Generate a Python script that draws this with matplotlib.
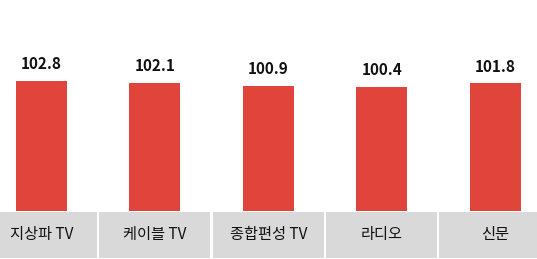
import matplotlib.pyplot as plt
from matplotlib.patches import Rectangle

plt.rcParams['font.family'] = ['Noto Sans CJK KR', 'DejaVu Sans']

categories = ['지상파 TV', '케이블 TV', '종합편성 TV', '라디오', '신문']
values = [102.8, 102.1, 100.9, 100.4, 101.8]

W, H = 537, 259
fig = plt.figure(figsize=(W / 100, H / 100), dpi=100)

# bar area: from top of figure down to y=211px
ax = fig.add_axes([0, 1 - 211 / H, 1, 211 / H])
x = list(range(len(categories)))
ax.bar(x, values, width=0.45, color='#E0443A')
ax.set_xlim(-0.366, 4.37)
ax.set_ylim(50, 50 + 211 / 2.462)
ax.axis('off')
for xi, v in zip(x, values):
    ax.annotate(f'{v}', (xi, v), xytext=(0, 12), textcoords='offset points',
                ha='center', va='center', fontsize=11, fontweight='bold',
                color='#111111')

# grey category boxes underneath
bx = fig.add_axes([0, 1 - 258 / H, 1, 46 / H])
bx.set_xlim(ax.get_xlim())
bx.set_ylim(0, 1)
bx.axis('off')
for xi, c in zip(x, categories):
    bx.add_patch(Rectangle((xi - 0.49, 0), 0.98, 1, color='#D9D9D9', lw=0))
    bx.text(xi, 0.5, c, ha='center', va='center', fontsize=11,
            fontweight='medium', color='#111111')

fig.savefig('out.png', dpi=100)
